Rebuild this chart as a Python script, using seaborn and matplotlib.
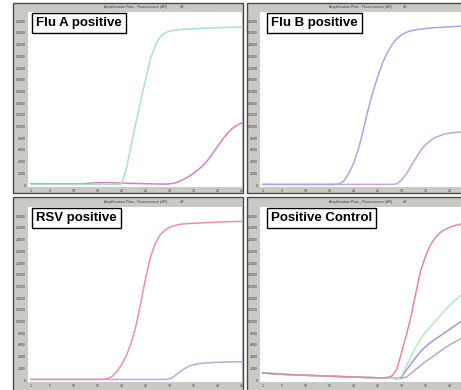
import seaborn as sns
import matplotlib.pyplot as plt
from matplotlib.patches import Rectangle

sns.set_style('white')
plt.rcParams['font.family'] = ['Liberation Sans', 'DejaVu Sans']

W, H = 461, 390

cycles = list(range(1, 46))
x_ticks_left = [1, 5, 10, 15, 20, 25, 30, 35, 40, 45]
x_ticks_right = [1, 5, 10, 15, 20, 25, 30, 35, 40]
y_ticks = list(range(0, 30000, 2000))

# Flu A positive
flu_a_green = [100] * 19 + [200, 2800, 6800, 10700, 14500, 18100, 21600, 23800, 25300, 26000,
                            26300, 26450, 26550, 26620, 26680, 26720, 26760, 26800, 26830, 26860,
                            26890, 26920, 26950, 26980, 27000, 27020]
flu_a_pink = [200] * 12 + [300, 350, 380, 400, 400, 380, 350, 320, 300] + \
             [280, 260, 240, 220, 200, 180, 160, 150] + \
             [200, 320, 600, 1000, 1450, 2000, 2650, 3350, 4300, 5450, 6600, 7750, 8800, 9650,
              10200, 10600]

# Flu B positive
flu_b_purple = [100] * 16 + [200, 700, 2000, 3700, 6100, 9300, 12800, 15800, 18500, 20800,
                             22600, 24000, 25000, 25700, 26100, 26400, 26550, 26650, 26750, 26850,
                             26900, 26950, 27000, 27050, 27100, 27150, 27200, 27250, 27300]
flu_b_mauve = [100] * 28 + [200, 850, 1900, 3300, 4600, 5900, 6900, 7600, 8100, 8450, 8700,
                            8880, 8980, 9060, 9120, 9160, 9200]

# RSV positive
rsv_pink = [100] * 16 + [200, 600, 1400, 2600, 4200, 6300, 9300, 13200, 17400, 21000,
                         23300, 24800, 25600, 26100, 26400, 26600, 26700, 26750, 26800, 26840,
                         26880, 26920, 26960, 27000, 27030, 27060, 27090, 27110, 27130]
rsv_mauve = [100] * 29 + [200, 650, 1300, 1900, 2350, 2620, 2780, 2870, 2930, 2980, 3020,
                          3050, 3080, 3100, 3110, 3120]

# Positive control
pc_base = [1200, 1150, 1100, 1050, 1000, 950, 900, 870, 840, 810, 780, 750, 720, 690, 660,
           630, 600, 570, 540, 510, 480, 450, 420, 400, 380]
pc_pink = pc_base + [380, 420, 700, 1800, 4700, 7700, 11000, 15000, 18800, 21200, 23100,
                     24300, 25200, 25700, 26100, 26400, 26600, 26750, 26850, 26900]
pc_green = pc_base + [370, 360, 350, 150, 700, 2400, 4100, 5700, 7000, 8200, 9100, 10000,
                      10940, 11900, 12750, 13500, 14250, 14900, 15500, 16000]
pc_blue = pc_base + [370, 360, 350, 150, 500, 1700, 2800, 3900, 4900, 5700, 6400, 7000,
                     7520, 8100, 8650, 9250, 9800, 10300, 10800, 11200]
pc_lavender = pc_base + [360, 350, 340, 330, 320, 500, 1150, 1850, 2500, 3150, 3700, 4300,
                         4900, 5470, 6000, 6450, 6900, 7300, 7700, 8100]

panels = [
    {'label': 'Flu A positive', 'outer': (13, 3, 243, 193), 'inner': (28, 12, 242, 187),
     'xmax': 45.08, 'box_x': 0.037, 'xt': x_ticks_left,
     'curves': [(flu_a_pink, '#d77fc6'), (flu_a_green, '#a6e4c2')]},
    {'label': 'Flu B positive', 'outer': (247, 3, 462, 193), 'inner': (260, 12, 461, 187),
     'xmax': 42.38, 'box_x': 0.055, 'xt': x_ticks_right,
     'curves': [(flu_b_mauve, '#c9a2d6'), (flu_b_purple, '#a9a5e8')]},
    {'label': 'RSV positive', 'outer': (13, 197, 243, 391), 'inner': (28, 207, 242, 382),
     'xmax': 45.08, 'box_x': 0.037, 'xt': x_ticks_left,
     'curves': [(rsv_mauve, '#c2a7d9'), (rsv_pink, '#ec8db6')]},
    {'label': 'Positive Control', 'outer': (247, 197, 462, 391), 'inner': (260, 207, 461, 382),
     'xmax': 42.38, 'box_x': 0.055, 'xt': x_ticks_right,
     'curves': [(pc_lavender, '#b9a8cc'), (pc_blue, '#9a9ae2'), (pc_green, '#b3e8cc'),
                (pc_pink, '#ee82a6')]},
]

fig = plt.figure(figsize=(W / 100, H / 100), dpi=100)
fig.patch.set_facecolor('white')

for p in panels:
    ox0, oy0, ox1, oy1 = p['outer']
    frame = Rectangle((ox0 / W, 1 - oy1 / H), (ox1 - ox0) / W, (oy1 - oy0) / H,
                      transform=fig.transFigure, facecolor='#cacac4', edgecolor='#4a4a4a',
                      linewidth=1.0, zorder=0)
    fig.add_artist(frame)

    ix0, iy0, ix1, iy1 = p['inner']
    ax = fig.add_axes([ix0 / W, 1 - iy1 / H, (ix1 - ix0) / W, (iy1 - iy0) / H])
    ax.set_facecolor('white')
    for values, color in p['curves']:
        sns.lineplot(x=cycles, y=values, color=color, linewidth=1.1, ax=ax, legend=False)

    ax.set_xlim(0.5, p['xmax'])
    ax.set_ylim(-342, 29583)
    ax.set_xticks(p['xt'])
    ax.set_yticks(y_ticks)
    ax.set_xticklabels([str(t) for t in p['xt']])
    ax.set_yticklabels([str(t) for t in y_ticks])
    ax.tick_params(length=0, pad=1.5, labelsize=2.6, labelcolor='#3a3a3a')
    ax.set_xlabel('')
    ax.set_ylabel('')
    for s in ax.spines.values():
        s.set_visible(False)

    ax.text(0.5, 1.026, 'Amplification Plots - Fluorescence (dR)', transform=ax.transAxes,
            ha='center', va='center', fontsize=2.6, color='#3a3a3a')
    ax.text(0.72, 1.026, 'dR', transform=ax.transAxes, ha='center', va='center',
            fontsize=2.6, color='#3a3a3a')

    ax.text(p['box_x'], 0.972, p['label'], transform=ax.transAxes, ha='left', va='top',
            fontsize=9.5, fontweight='bold', color='black',
            bbox=dict(boxstyle='square,pad=0.3', facecolor='white', edgecolor='black',
                      linewidth=1.0))

fig.savefig('out.png', dpi=100, facecolor='white')
